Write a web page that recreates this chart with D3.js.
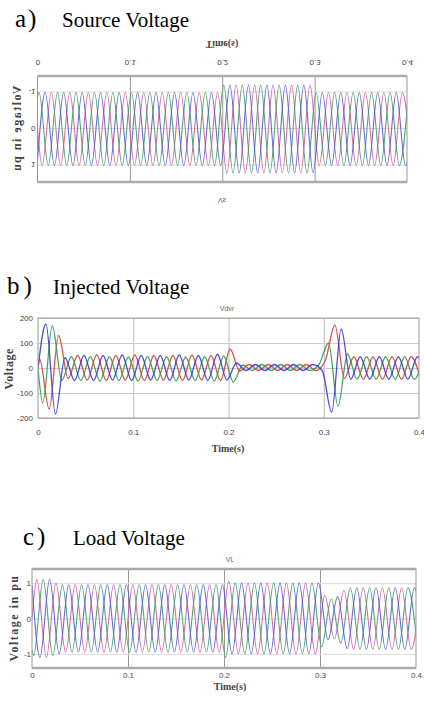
<!DOCTYPE html>
<html>
<head>
<meta charset="utf-8">
<script src="https://cdn.jsdelivr.net/npm/d3@7"></script>
<style>
  body { margin: 0; background: #fff; }
  svg { display: block; }
  .tick text { font-family: "Liberation Sans", Arial, sans-serif; font-size: 8px; fill: #444; }
  .heading { font-family: "Liberation Serif", "Times New Roman", serif; fill: #000; }
  .axis-title { font-family: "Liberation Serif", "Times New Roman", serif; font-weight: bold; fill: #444; }
  .plot-title { font-family: "Liberation Sans", Arial, sans-serif; font-size: 7px; fill: #666; }
</style>
</head>
<body>
<div id="chart"></div>
<script>
// ---- data (peak value of each half cycle) ----
const timeTicks = [0, 0.1, 0.2, 0.3, 0.4];
const timeTickLabels = ["0", "0.1", "0.2", "0.3", "0.4"];
const halfPeriod = 0.01; // 50 Hz

// time of the first peak of each phase
const firstPeakABC = [0.005, 0.00167, 0.00833];
const firstPeakRGB = [0.00167, 0.005, 0.00833];

// a) source voltage (pu)
const vsStart = [0, -0.87, 0.87];
const vsPh1 = [1,-1,1,-1,1,-1,1,-1,1,-1,1,-1,1,-1,1,-1,1,-1,1,-1,
  1.2,-1.2,1.2,-1.2,1.2,-1.2,1.2,-1.2,1.2,-1.2,
  1,-1,1,-1,1,-1,1,-1,1,-1,1];
const vsPh2 = [-1,1,-1,1,-1,1,-1,1,-1,1,-1,1,-1,1,-1,1,-1,1,-1,1,
  -1.2,1.2,-1.2,1.2,-1.2,1.2,-1.2,1.2,-1.2,1.2,
  -1,1,-1,1,-1,1,-1,1,-1,1,-1];
const vsPh3 = [-1,1,-1,1,-1,1,-1,1,-1,1,-1,1,-1,1,-1,1,-1,1,-1,1,
  -1.2,1.2,-1.2,1.2,-1.2,1.2,-1.2,1.2,-1.2,1.2,
  -1,1,-1,1,-1,1,-1,1,-1,1,-1];
const vsTicks = [-1, 0, 1];
const vsTickLabels = ["-1", "0", "1"];

// b) injected voltage (V)
const vdvrStart = [0, 0, 0];
const vdvrRed = [36,-164,130,-42,
  50,-48,52,-50,50,-48,52,-50,50,-48,50,-50,52,-48,50,-50,
  76,-12,
  14,-10,14,-10,14,-10,14,-10,
  30,172,-42,
  45,-45,45,-45,45,-45,45,-45];
const vdvrGreen = [-140,168,-50,45,
  -50,45,-52,45,-50,44,-52,45,-50,45,-52,44,-50,45,-52,48,
  -56,12,
  -10,14,-10,14,-10,14,-10,14,
  100,-152,56,
  -45,45,-45,45,-45,45,-45,45];
const vdvrBlue = [176,-184,42,-50,
  50,-50,50,-48,52,-50,50,-48,50,-50,52,-48,50,-50,55,-48,
  20,-10,
  14,-10,14,-10,14,-10,14,-10,
  -176,156,-45,
  45,-45,45,-45,45,-45,45,-45];
const vdvrTicks = [-200, -100, 0, 100, 200];
const vdvrTickLabels = ["-200", "-100", "0", "100", "200"];

// c) load voltage (pu)
const vlStart = [0, -0.9, 0.95];
const vlPh1 = [1.1,-1.1,1.0,
  -0.95,0.95,-0.95,0.95,-0.95,0.95,-0.95,0.95,-0.95,0.95,-0.95,0.95,-0.95,0.95,-0.95,0.95,-0.95,
  1.05,
  -1,1,-1,1,-1,1,-1,1,-1,
  0.65,-0.58,0.8,
  -0.87,0.87,-0.87,0.87,-0.87,0.87,-0.87,0.87];
const vlPh2 = [-1.05,1.1,-1.05,
  0.95,-0.95,0.95,-0.95,0.95,-0.95,0.95,-0.95,0.95,-0.95,0.95,-0.95,0.95,-0.95,0.95,-0.95,0.95,
  -1.1,
  1,-1,1,-1,1,-1,1,-1,1,
  -0.8,0.55,-0.7,
  0.87,-0.87,0.87,-0.87,0.87,-0.87,0.87,-0.87];
const vlPh3 = [-1.1,1.1,-1.0,
  0.95,-0.95,0.95,-0.95,0.95,-0.95,0.95,-0.95,0.95,-0.95,0.95,-0.95,0.95,-0.95,0.95,-0.95,0.95,
  -1.0,
  1,-1,1,-1,1,-1,1,-1,1,
  -0.6,0.62,-0.85,
  0.87,-0.87,0.87,-0.87,0.87,-0.87,0.87,-0.87];
const vlTicks = [-1, 0, 1];
const vlTickLabels = ["-1", "0", "1"];

const phaseColors = ["#cf5f9c", "#3f9a6a", "#5a5ad0"];
const rgbColors = ["#d64040", "#3a9a4a", "#3b3bd0"];

// ---- drawing ----
const width = 424, height = 705;
const svg = d3.select("#chart").append("svg")
  .attr("width", width)
  .attr("height", height);

// builds [time, value] points: start value at t=0, then one point per half-cycle peak
function toPoints(start, first, peaks) {
  return [[0, start]].concat(peaks.map((v, i) => [first + i * halfPeriod, v]));
}

function drawPanel(p) {
  const g = svg.append("g");
  if (p.flip) g.attr("transform", `translate(0, ${p.top + p.bottom}) scale(1,-1)`);

  const x = d3.scaleLinear().domain([0, 0.4]).range([p.left, p.right]);
  const y = d3.scaleLinear().domain(p.yDomain).range([p.bottom, p.top]);

  // grid
  g.append("g")
    .attr("transform", `translate(0,${p.bottom})`)
    .call(d3.axisBottom(x).tickValues(timeTicks.slice(1, -1)).tickSize(-(p.bottom - p.top)).tickFormat(""))
    .call(a => a.select(".domain").remove())
    .selectAll("line").attr("stroke", p.vGrid);
  g.append("g")
    .attr("transform", `translate(${p.left},0)`)
    .call(d3.axisLeft(y).tickValues(p.yTicks).tickSize(-(p.right - p.left)).tickFormat(""))
    .call(a => a.select(".domain").remove())
    .selectAll("line").attr("stroke", p.hGrid);

  // waves
  const clipId = "clip-" + p.name;
  g.append("clipPath").attr("id", clipId)
    .append("rect")
    .attr("x", p.left).attr("y", p.top)
    .attr("width", p.right - p.left).attr("height", p.bottom - p.top);

  const line = d3.line()
    .x(d => x(d[0]))
    .y(d => y(d[1]))
    .curve(d3.curveMonotoneX);

  const waves = g.append("g").attr("clip-path", `url(#${clipId})`);
  p.series.forEach((s, i) => {
    waves.append("path")
      .attr("d", line(toPoints(p.start[i], p.firstPeak[i], s)))
      .attr("fill", "none")
      .attr("stroke", p.colors[i])
      .attr("stroke-width", p.lineWidth)
      .attr("opacity", 0.9);
  });

  // frame
  g.append("rect")
    .attr("x", p.left).attr("y", p.top)
    .attr("width", p.right - p.left).attr("height", p.bottom - p.top)
    .attr("fill", "none").attr("stroke", "#999").attr("stroke-width", 1);
  if (p.thickEdges) {
    [p.top, p.bottom].forEach(yy => {
      g.append("line")
        .attr("x1", p.left).attr("x2", p.right)
        .attr("y1", yy).attr("y2", yy)
        .attr("stroke", "#aaa").attr("stroke-width", 2.5);
    });
  }

  // tick labels
  g.append("g")
    .attr("transform", `translate(0,${p.bottom})`)
    .call(d3.axisBottom(x).tickValues(timeTicks).tickFormat((d, i) => timeTickLabels[i]).tickSize(0).tickPadding(p.xPad))
    .call(a => a.select(".domain").remove());
  g.append("g")
    .attr("transform", `translate(${p.left},0)`)
    .call(d3.axisLeft(y).tickValues(p.yTicks).tickFormat((d, i) => p.yTickLabels[i]).tickSize(0).tickPadding(p.yPad))
    .call(a => a.select(".domain").remove());

  // titles
  g.append("text").attr("class", "plot-title")
    .attr("x", p.titlePos[0]).attr("y", p.titlePos[1])
    .attr("text-anchor", "middle").attr("dominant-baseline", "middle")
    .text(p.title);
  g.append("text").attr("class", "axis-title")
    .attr("x", p.xLabelPos[0]).attr("y", p.xLabelPos[1])
    .attr("text-anchor", "middle").attr("dominant-baseline", "middle")
    .style("font-size", "10px")
    .text("Time(s)");
  g.append("text").attr("class", "axis-title")
    .attr("transform", `translate(${p.yLabelPos[0]},${p.yLabelPos[1]}) rotate(-90)`)
    .attr("text-anchor", "middle").attr("dominant-baseline", "middle")
    .style("font-size", p.yLabelSize + "px")
    .style("letter-spacing", p.yLabelSpacing + "px")
    .text(p.yLabel);
}

// a) Source Voltage (mirrored vertically, as in the reference)
drawPanel({
  name: "vs", flip: true,
  left: 37.5, right: 407, top: 76, bottom: 182,
  yDomain: [-1.45, 1.45], yTicks: vsTicks, yTickLabels: vsTickLabels,
  series: [vsPh1, vsPh2, vsPh3], start: vsStart, firstPeak: firstPeakABC,
  colors: phaseColors, lineWidth: 1.1, thickEdges: true,
  vGrid: "#999", hGrid: "#ddd",
  xPad: 10, yPad: 2,
  title: "Vs", titlePos: [222, 58],
  xLabelPos: [222, 215],
  yLabel: "Voltage in pu", yLabelPos: [18, 129], yLabelSize: 12, yLabelSpacing: 1.5
});

// b) Injected Voltage
drawPanel({
  name: "vdvr", flip: false,
  left: 38, right: 419, top: 318, bottom: 418,
  yDomain: [-200, 200], yTicks: vdvrTicks, yTickLabels: vdvrTickLabels,
  series: [vdvrRed, vdvrGreen, vdvrBlue], start: vdvrStart, firstPeak: firstPeakRGB,
  colors: rgbColors, lineWidth: 1.3, thickEdges: false,
  vGrid: "#bbb", hGrid: "#ccc",
  xPad: 11, yPad: 5,
  title: "Vdvr", titlePos: [227, 309],
  xLabelPos: [228, 450],
  yLabel: "Voltage", yLabelPos: [10, 369], yLabelSize: 12, yLabelSpacing: 0.5
});

// c) Load Voltage
drawPanel({
  name: "vl", flip: false,
  left: 32, right: 416, top: 569, bottom: 668,
  yDomain: [-1.4, 1.4], yTicks: vlTicks, yTickLabels: vlTickLabels,
  series: [vlPh1, vlPh2, vlPh3], start: vlStart, firstPeak: firstPeakABC,
  colors: phaseColors, lineWidth: 1.1, thickEdges: true,
  vGrid: "#999", hGrid: "#ddd",
  xPad: 4, yPad: 1,
  title: "VL", titlePos: [230, 560],
  xLabelPos: [230, 688],
  yLabel: "Voltage in pu", yLabelPos: [15, 618], yLabelSize: 12, yLabelSpacing: 1.5
});

// panel headings
const headings = [
  { tag: "a)", text: "Source Voltage", tagX: 15, textX: 62, y: 27, spacing: 2 },
  { tag: "b)", text: "Injected Voltage", tagX: 7, textX: 53, y: 294, spacing: 4 },
  { tag: "c)", text: "Load Voltage", tagX: 23, textX: 73, y: 545, spacing: 3 }
];
headings.forEach(h => {
  svg.append("text").attr("class", "heading")
    .attr("x", h.tagX).attr("y", h.y)
    .style("font-size", "25px")
    .style("letter-spacing", h.spacing + "px")
    .text(h.tag);
  svg.append("text").attr("class", "heading")
    .attr("x", h.textX).attr("y", h.y)
    .style("font-size", "21px")
    .text(h.text);
});
</script>
</body>
</html>
